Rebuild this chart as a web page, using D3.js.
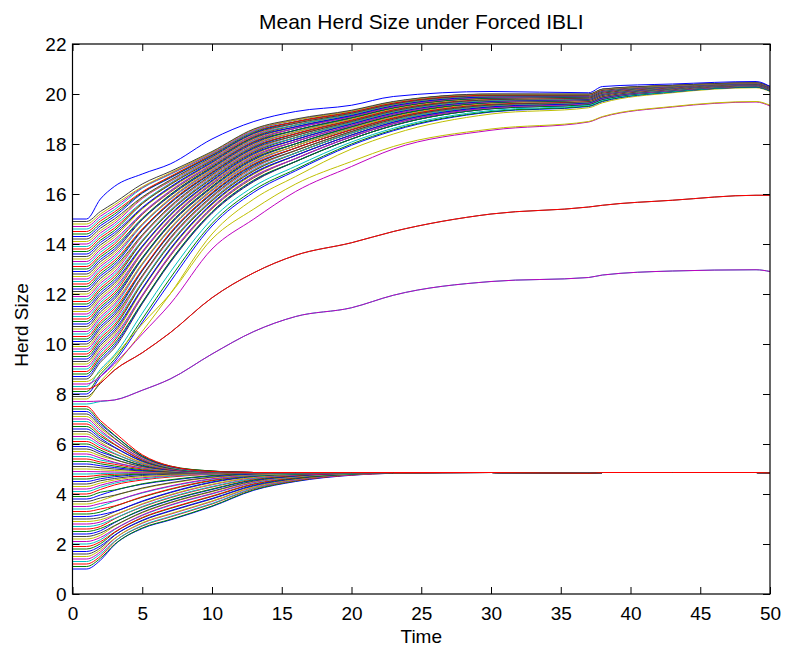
<!DOCTYPE html>
<html>
<head>
<meta charset="utf-8">
<script src="https://cdn.jsdelivr.net/npm/d3@7"></script>
<style>
  body { margin: 0; background: #fff; }
  svg { display: block; }
  text { font-family: "Liberation Sans", Arial, Helvetica, sans-serif; fill: #000; }
</style>
</head>
<body>
<div id="container"></div>
<script>
/* CONSTANTS AND GLOBALS */
const width = 786,
  height = 654,
  margin = { top: 44, bottom: 60, left: 72.5, right: 16 };

// time steps the values were read at
const times = [0, 1, 2, 3, 5, 7, 10, 13, 16, 20, 23, 30, 37, 38, 43, 49, 50];

// MATLAB default line colours, cycled in plotting order
const colorOrder = ["#0000ff", "#008000", "#ff0000", "#00bfbf", "#bf00bf", "#bfbf00", "#404040"];

const xTicks = [0, 5, 10, 15, 20, 25, 30, 35, 40, 45, 50];
const yTicks = [0, 2, 4, 6, 8, 10, 12, 14, 16, 18, 20, 22];

// herds starting below the low equilibrium (1.0 .. 4.8)
const lowStart = [
  [1.0, 1.0, 1.35, 1.96, 2.62, 2.96, 3.50, 4.15, 4.50, 4.75, 4.83, 4.86, 4.83, 4.86, 4.86, 4.86, 4.84],
  [1.1, 1.1, 1.43, 1.98, 2.64, 2.98, 3.52, 4.17, 4.52, 4.77, 4.83, 4.86, 4.83, 4.86, 4.86, 4.86, 4.84],
  [1.2, 1.2, 1.51, 2.08, 2.72, 3.08, 3.60, 4.21, 4.54, 4.76, 4.83, 4.86, 4.83, 4.86, 4.86, 4.86, 4.84],
  [1.3, 1.3, 1.60, 2.10, 2.74, 3.10, 3.62, 4.23, 4.56, 4.78, 4.84, 4.86, 4.83, 4.86, 4.86, 4.86, 4.84],
  [1.4, 1.4, 1.68, 2.20, 2.83, 3.19, 3.70, 4.27, 4.57, 4.77, 4.84, 4.86, 4.83, 4.86, 4.86, 4.86, 4.84],
  [1.5, 1.5, 1.76, 2.22, 2.85, 3.21, 3.72, 4.29, 4.59, 4.79, 4.84, 4.86, 4.83, 4.86, 4.86, 4.86, 4.84],
  [1.6, 1.6, 1.84, 2.33, 2.93, 3.31, 3.80, 4.33, 4.61, 4.79, 4.85, 4.86, 4.83, 4.86, 4.86, 4.86, 4.84],
  [1.7, 1.7, 1.92, 2.35, 2.95, 3.33, 3.82, 4.35, 4.63, 4.81, 4.85, 4.86, 4.83, 4.86, 4.86, 4.86, 4.84],
  [1.8, 1.8, 2.01, 2.45, 3.04, 3.42, 3.90, 4.39, 4.64, 4.80, 4.85, 4.86, 4.83, 4.86, 4.86, 4.86, 4.84],
  [1.9, 1.9, 2.09, 2.47, 3.06, 3.44, 3.92, 4.41, 4.66, 4.82, 4.85, 4.86, 4.83, 4.86, 4.86, 4.86, 4.84],
  [2.0, 2.0, 2.17, 2.57, 3.14, 3.54, 4.00, 4.45, 4.68, 4.81, 4.86, 4.86, 4.83, 4.86, 4.86, 4.86, 4.84],
  [2.1, 2.1, 2.26, 2.59, 3.16, 3.56, 4.02, 4.47, 4.70, 4.83, 4.86, 4.86, 4.83, 4.86, 4.86, 4.86, 4.84],
  [2.2, 2.2, 2.35, 2.71, 3.25, 3.64, 4.09, 4.50, 4.70, 4.82, 4.86, 4.86, 4.83, 4.86, 4.86, 4.86, 4.84],
  [2.3, 2.3, 2.44, 2.73, 3.27, 3.66, 4.11, 4.52, 4.72, 4.84, 4.86, 4.86, 4.83, 4.86, 4.86, 4.86, 4.84],
  [2.4, 2.4, 2.53, 2.85, 3.36, 3.74, 4.18, 4.55, 4.72, 4.83, 4.86, 4.86, 4.83, 4.86, 4.86, 4.86, 4.84],
  [2.5, 2.5, 2.62, 2.87, 3.38, 3.76, 4.20, 4.57, 4.74, 4.85, 4.86, 4.86, 4.83, 4.86, 4.86, 4.86, 4.84],
  [2.6, 2.6, 2.70, 3.00, 3.48, 3.85, 4.28, 4.60, 4.75, 4.83, 4.86, 4.86, 4.83, 4.86, 4.86, 4.86, 4.84],
  [2.7, 2.7, 2.79, 3.02, 3.50, 3.87, 4.30, 4.62, 4.77, 4.85, 4.86, 4.86, 4.83, 4.86, 4.86, 4.86, 4.84],
  [2.8, 2.8, 2.88, 3.14, 3.59, 3.95, 4.37, 4.65, 4.77, 4.84, 4.86, 4.86, 4.83, 4.86, 4.86, 4.86, 4.84],
  [2.9, 2.9, 2.97, 3.16, 3.61, 3.97, 4.39, 4.67, 4.79, 4.86, 4.86, 4.86, 4.83, 4.86, 4.86, 4.86, 4.84],
  [3.0, 3.0, 3.06, 3.28, 3.70, 4.05, 4.46, 4.70, 4.79, 4.85, 4.86, 4.86, 4.83, 4.86, 4.86, 4.86, 4.84],
  [3.1, 3.1, 3.17, 3.30, 3.72, 4.07, 4.48, 4.72, 4.81, 4.85, 4.86, 4.86, 4.83, 4.86, 4.86, 4.86, 4.84],
  [3.2, 3.2, 3.28, 3.50, 3.87, 4.18, 4.53, 4.73, 4.80, 4.85, 4.86, 4.86, 4.83, 4.86, 4.86, 4.86, 4.84],
  [3.3, 3.3, 3.40, 3.52, 3.89, 4.20, 4.55, 4.75, 4.82, 4.85, 4.86, 4.86, 4.83, 4.86, 4.86, 4.86, 4.84],
  [3.4, 3.4, 3.51, 3.71, 4.04, 4.30, 4.59, 4.75, 4.81, 4.85, 4.86, 4.86, 4.83, 4.86, 4.86, 4.86, 4.84],
  [3.5, 3.5, 3.62, 3.73, 4.06, 4.32, 4.61, 4.77, 4.83, 4.85, 4.86, 4.86, 4.83, 4.86, 4.86, 4.86, 4.84],
  [3.6, 3.6, 3.73, 3.93, 4.22, 4.43, 4.66, 4.78, 4.82, 4.85, 4.86, 4.86, 4.83, 4.86, 4.86, 4.86, 4.84],
  [3.7, 3.7, 3.84, 3.95, 4.24, 4.45, 4.68, 4.80, 4.84, 4.85, 4.86, 4.86, 4.83, 4.86, 4.86, 4.86, 4.84],
  [3.8, 3.8, 3.96, 4.14, 4.39, 4.55, 4.72, 4.81, 4.83, 4.85, 4.86, 4.86, 4.83, 4.86, 4.86, 4.86, 4.84],
  [3.9, 3.9, 4.07, 4.16, 4.41, 4.57, 4.74, 4.83, 4.85, 4.85, 4.86, 4.86, 4.83, 4.86, 4.86, 4.86, 4.84],
  [4.0, 4.0, 4.18, 4.36, 4.56, 4.68, 4.79, 4.83, 4.84, 4.85, 4.86, 4.86, 4.83, 4.86, 4.86, 4.86, 4.84],
  [4.1, 4.1, 4.27, 4.43, 4.60, 4.71, 4.80, 4.84, 4.84, 4.85, 4.86, 4.86, 4.83, 4.86, 4.86, 4.86, 4.84],
  [4.2, 4.2, 4.35, 4.49, 4.65, 4.74, 4.81, 4.84, 4.85, 4.85, 4.86, 4.86, 4.83, 4.86, 4.86, 4.86, 4.84],
  [4.3, 4.3, 4.44, 4.56, 4.69, 4.76, 4.83, 4.85, 4.85, 4.85, 4.86, 4.86, 4.83, 4.86, 4.86, 4.86, 4.84],
  [4.4, 4.4, 4.53, 4.62, 4.74, 4.79, 4.84, 4.85, 4.85, 4.85, 4.86, 4.86, 4.83, 4.86, 4.86, 4.86, 4.84],
  [4.5, 4.5, 4.61, 4.69, 4.78, 4.82, 4.85, 4.85, 4.85, 4.85, 4.86, 4.86, 4.83, 4.86, 4.86, 4.86, 4.84],
  [4.6, 4.6, 4.69, 4.74, 4.80, 4.83, 4.85, 4.85, 4.85, 4.85, 4.86, 4.86, 4.83, 4.86, 4.86, 4.86, 4.84],
  [4.7, 4.7, 4.76, 4.79, 4.83, 4.84, 4.85, 4.85, 4.85, 4.85, 4.86, 4.86, 4.83, 4.86, 4.86, 4.86, 4.84],
  [4.8, 4.8, 4.82, 4.83, 4.84, 4.85, 4.85, 4.85, 4.85, 4.85, 4.86, 4.86, 4.83, 4.86, 4.86, 4.86, 4.84]
];

// herds starting just above the low equilibrium (4.9 .. 7.5)
const midStart = [
  [4.9, 4.9, 4.89, 4.88, 4.86, 4.86, 4.85, 4.86, 4.86, 4.86, 4.86, 4.86, 4.83, 4.86, 4.86, 4.86, 4.84],
  [5.0, 5.0, 4.97, 4.94, 4.89, 4.87, 4.85, 4.86, 4.86, 4.86, 4.86, 4.86, 4.83, 4.86, 4.86, 4.86, 4.84],
  [5.1, 5.1, 5.05, 5.00, 4.92, 4.88, 4.86, 4.86, 4.86, 4.86, 4.86, 4.86, 4.83, 4.86, 4.86, 4.86, 4.84],
  [5.2, 5.2, 5.13, 5.06, 4.94, 4.89, 4.86, 4.86, 4.86, 4.86, 4.86, 4.86, 4.83, 4.86, 4.86, 4.86, 4.84],
  [5.3, 5.3, 5.21, 5.12, 4.97, 4.90, 4.86, 4.86, 4.86, 4.86, 4.86, 4.86, 4.83, 4.86, 4.86, 4.86, 4.84],
  [5.4, 5.4, 5.28, 5.19, 5.00, 4.91, 4.86, 4.86, 4.86, 4.86, 4.86, 4.86, 4.83, 4.86, 4.86, 4.86, 4.84],
  [5.5, 5.5, 5.36, 5.25, 5.03, 4.92, 4.86, 4.86, 4.86, 4.86, 4.86, 4.86, 4.83, 4.86, 4.86, 4.86, 4.84],
  [5.6, 5.6, 5.44, 5.27, 5.05, 4.94, 4.88, 4.86, 4.86, 4.86, 4.86, 4.86, 4.83, 4.86, 4.86, 4.86, 4.84],
  [5.7, 5.7, 5.52, 5.37, 5.08, 4.94, 4.87, 4.86, 4.86, 4.86, 4.86, 4.86, 4.83, 4.86, 4.86, 4.86, 4.84],
  [5.8, 5.8, 5.60, 5.39, 5.10, 4.96, 4.89, 4.86, 4.86, 4.86, 4.86, 4.86, 4.83, 4.86, 4.86, 4.86, 4.84],
  [5.9, 5.9, 5.68, 5.49, 5.13, 4.96, 4.87, 4.86, 4.86, 4.86, 4.86, 4.86, 4.83, 4.86, 4.86, 4.86, 4.84],
  [6.0, 6.0, 5.76, 5.51, 5.15, 4.98, 4.89, 4.86, 4.86, 4.86, 4.86, 4.86, 4.83, 4.86, 4.86, 4.86, 4.84],
  [6.1, 6.1, 5.84, 5.61, 5.19, 4.98, 4.88, 4.86, 4.86, 4.86, 4.86, 4.86, 4.83, 4.86, 4.86, 4.86, 4.84],
  [6.2, 6.2, 5.92, 5.63, 5.21, 5.00, 4.90, 4.86, 4.86, 4.86, 4.86, 4.86, 4.83, 4.86, 4.86, 4.86, 4.84],
  [6.3, 6.3, 6.00, 5.73, 5.24, 5.00, 4.88, 4.86, 4.86, 4.86, 4.86, 4.86, 4.83, 4.86, 4.86, 4.86, 4.84],
  [6.4, 6.4, 6.07, 5.75, 5.26, 5.02, 4.90, 4.86, 4.86, 4.86, 4.86, 4.86, 4.83, 4.86, 4.86, 4.86, 4.84],
  [6.5, 6.5, 6.15, 5.86, 5.30, 5.02, 4.88, 4.86, 4.86, 4.86, 4.86, 4.86, 4.83, 4.86, 4.86, 4.86, 4.84],
  [6.6, 6.6, 6.23, 5.88, 5.32, 5.04, 4.90, 4.86, 4.86, 4.86, 4.86, 4.86, 4.83, 4.86, 4.86, 4.86, 4.84],
  [6.7, 6.7, 6.31, 5.98, 5.35, 5.04, 4.89, 4.86, 4.86, 4.86, 4.86, 4.86, 4.83, 4.86, 4.86, 4.86, 4.84],
  [6.8, 6.8, 6.39, 6.00, 5.37, 5.06, 4.91, 4.86, 4.86, 4.86, 4.86, 4.86, 4.83, 4.86, 4.86, 4.86, 4.84],
  [6.9, 6.9, 6.47, 6.10, 5.40, 5.06, 4.89, 4.86, 4.86, 4.86, 4.86, 4.86, 4.83, 4.86, 4.86, 4.86, 4.84],
  [7.0, 7.0, 6.55, 6.12, 5.42, 5.08, 4.91, 4.86, 4.86, 4.86, 4.86, 4.86, 4.83, 4.86, 4.86, 4.86, 4.84],
  [7.1, 7.1, 6.63, 6.22, 5.46, 5.08, 4.90, 4.86, 4.86, 4.86, 4.86, 4.86, 4.83, 4.86, 4.86, 4.86, 4.84],
  [7.2, 7.2, 6.71, 6.24, 5.48, 5.10, 4.92, 4.86, 4.86, 4.86, 4.86, 4.86, 4.83, 4.86, 4.86, 4.86, 4.84],
  [7.3, 7.3, 6.79, 6.34, 5.51, 5.10, 4.90, 4.86, 4.86, 4.86, 4.86, 4.86, 4.83, 4.86, 4.86, 4.86, 4.84],
  [7.4, 7.4, 6.86, 6.36, 5.53, 5.12, 4.92, 4.86, 4.86, 4.86, 4.86, 4.86, 4.83, 4.86, 4.86, 4.86, 4.84],
  [7.5, 7.5, 6.94, 6.47, 5.57, 5.12, 4.90, 4.86, 4.86, 4.86, 4.86, 4.86, 4.83, 4.86, 4.86, 4.86, 4.84]
];

// herds that escape to the high equilibrium (7.6 .. 15.0)
const highStart = [
  [7.6, 7.6, 7.70, 7.76, 8.15, 8.60, 9.60, 10.50, 11.10, 11.45, 11.95, 12.50, 12.66, 12.76, 12.92, 12.97, 12.90],
  [7.7, 7.7, 7.72, 7.76, 8.15, 8.60, 9.60, 10.50, 11.10, 11.45, 11.95, 12.50, 12.66, 12.76, 12.92, 12.97, 12.90],
  [7.8, 7.8, 8.50, 9.10, 10.50, 12.00, 14.40, 15.80, 16.70, 17.80, 18.40, 19.20, 19.45, 19.65, 20.05, 20.25, 20.10],
  [7.9, 7.9, 8.42, 8.95, 9.65, 10.45, 11.85, 12.85, 13.55, 14.05, 14.50, 15.20, 15.48, 15.55, 15.75, 15.95, 15.95],
  [8.0, 8.0, 8.69, 9.28, 10.87, 12.48, 14.72, 16.07, 16.93, 17.95, 18.53, 19.28, 19.50, 19.70, 20.08, 20.27, 20.12],
  [8.1, 8.1, 8.79, 9.38, 11.00, 12.63, 14.82, 16.16, 16.99, 18.00, 18.57, 19.30, 19.52, 19.72, 20.09, 20.28, 20.13],
  [8.2, 8.2, 8.45, 8.95, 9.65, 10.45, 11.85, 12.85, 13.55, 14.05, 14.50, 15.20, 15.48, 15.55, 15.75, 15.95, 15.95],
  [8.3, 8.3, 8.98, 9.56, 11.23, 12.87, 14.99, 16.30, 17.11, 18.08, 18.63, 19.34, 19.55, 19.75, 20.10, 20.29, 20.14],
  [8.4, 8.4, 8.70, 9.20, 10.40, 11.60, 13.80, 15.00, 16.10, 17.10, 17.80, 18.55, 18.88, 19.08, 19.48, 19.68, 19.52],
  [8.5, 8.5, 8.90, 9.50, 10.80, 12.00, 14.20, 15.40, 16.40, 17.30, 17.90, 18.60, 18.90, 19.10, 19.50, 19.70, 19.55],
  [8.6, 8.6, 9.27, 9.84, 11.61, 13.25, 15.23, 16.50, 17.30, 18.20, 18.74, 19.41, 19.59, 19.79, 20.13, 20.30, 20.15],
  [8.7, 8.7, 9.36, 9.93, 11.64, 13.28, 15.26, 16.53, 17.30, 18.20, 18.74, 19.41, 19.59, 19.79, 20.13, 20.30, 20.15],
  [8.8, 8.8, 9.46, 10.02, 11.67, 13.31, 15.29, 16.56, 17.30, 18.20, 18.74, 19.41, 19.59, 19.79, 20.13, 20.30, 20.15],
  [8.9, 8.9, 9.55, 10.12, 11.90, 13.51, 15.41, 16.65, 17.42, 18.29, 18.81, 19.45, 19.62, 19.82, 20.14, 20.31, 20.16],
  [9.0, 9.0, 9.65, 10.21, 11.93, 13.54, 15.44, 16.68, 17.42, 18.29, 18.81, 19.45, 19.62, 19.82, 20.14, 20.31, 20.16],
  [9.1, 9.1, 9.74, 10.30, 11.96, 13.57, 15.47, 16.71, 17.42, 18.29, 18.81, 19.45, 19.62, 19.82, 20.14, 20.31, 20.16],
  [9.2, 9.2, 9.84, 10.39, 12.17, 13.75, 15.57, 16.79, 17.54, 18.36, 18.87, 19.49, 19.65, 19.85, 20.16, 20.32, 20.17],
  [9.3, 9.3, 9.94, 10.48, 12.20, 13.78, 15.60, 16.82, 17.54, 18.36, 18.87, 19.49, 19.65, 19.85, 20.16, 20.32, 20.17],
  [9.4, 9.4, 10.03, 10.57, 12.23, 13.81, 15.63, 16.85, 17.54, 18.36, 18.87, 19.49, 19.65, 19.85, 20.16, 20.32, 20.17],
  [9.5, 9.5, 10.13, 10.67, 12.43, 13.98, 15.72, 16.92, 17.64, 18.44, 18.93, 19.53, 19.68, 19.88, 20.17, 20.33, 20.18],
  [9.6, 9.6, 10.23, 10.76, 12.46, 14.01, 15.75, 16.95, 17.64, 18.44, 18.93, 19.53, 19.68, 19.88, 20.17, 20.33, 20.18],
  [9.7, 9.7, 10.32, 10.86, 12.49, 14.04, 15.78, 16.98, 17.64, 18.44, 18.93, 19.53, 19.68, 19.88, 20.17, 20.33, 20.18],
  [9.8, 9.8, 10.42, 10.95, 12.68, 14.19, 15.86, 17.04, 17.74, 18.50, 18.99, 19.56, 19.70, 19.90, 20.19, 20.34, 20.19],
  [9.9, 9.9, 10.51, 11.04, 12.71, 14.22, 15.89, 17.07, 17.74, 18.50, 18.99, 19.56, 19.70, 19.90, 20.19, 20.34, 20.19],
  [10.0, 10.0, 10.61, 11.13, 12.74, 14.25, 15.92, 17.10, 17.74, 18.50, 18.99, 19.56, 19.70, 19.90, 20.19, 20.34, 20.19],
  [10.1, 10.1, 10.70, 11.22, 12.92, 14.39, 16.00, 17.15, 17.84, 18.57, 19.04, 19.60, 19.72, 19.92, 20.20, 20.35, 20.20],
  [10.2, 10.2, 10.80, 11.31, 12.95, 14.42, 16.03, 17.18, 17.84, 18.57, 19.04, 19.60, 19.72, 19.92, 20.20, 20.35, 20.20],
  [10.3, 10.3, 10.89, 11.41, 12.98, 14.45, 16.06, 17.21, 17.84, 18.57, 19.04, 19.60, 19.72, 19.92, 20.20, 20.35, 20.20],
  [10.4, 10.4, 10.99, 11.50, 13.17, 14.58, 16.13, 17.26, 17.93, 18.63, 19.09, 19.63, 19.74, 19.94, 20.21, 20.36, 20.21],
  [10.5, 10.5, 11.08, 11.59, 13.20, 14.61, 16.16, 17.29, 17.93, 18.63, 19.09, 19.63, 19.74, 19.94, 20.21, 20.36, 20.21],
  [10.6, 10.6, 11.18, 11.68, 13.23, 14.64, 16.19, 17.32, 17.93, 18.63, 19.09, 19.63, 19.74, 19.94, 20.21, 20.36, 20.21],
  [10.7, 10.7, 11.28, 11.78, 13.40, 14.77, 16.25, 17.37, 18.01, 18.69, 19.14, 19.66, 19.76, 19.96, 20.22, 20.36, 20.21],
  [10.8, 10.8, 11.38, 11.87, 13.43, 14.80, 16.28, 17.40, 18.01, 18.69, 19.14, 19.66, 19.76, 19.96, 20.22, 20.36, 20.21],
  [10.9, 10.9, 11.47, 11.96, 13.46, 14.83, 16.31, 17.43, 18.01, 18.69, 19.14, 19.66, 19.76, 19.96, 20.22, 20.36, 20.21],
  [11.0, 11.0, 11.57, 12.05, 13.64, 14.95, 16.38, 17.47, 18.10, 18.74, 19.19, 19.69, 19.78, 19.98, 20.23, 20.37, 20.22],
  [11.1, 11.1, 11.66, 12.15, 13.67, 14.98, 16.41, 17.50, 18.10, 18.74, 19.19, 19.69, 19.78, 19.98, 20.23, 20.37, 20.22],
  [11.2, 11.2, 11.76, 12.24, 13.70, 15.01, 16.44, 17.53, 18.10, 18.74, 19.19, 19.69, 19.78, 19.98, 20.23, 20.37, 20.22],
  [11.3, 11.3, 11.85, 12.33, 13.86, 15.12, 16.49, 17.57, 18.18, 18.80, 19.24, 19.71, 19.80, 20.00, 20.24, 20.38, 20.23],
  [11.4, 11.4, 11.95, 12.42, 13.89, 15.15, 16.52, 17.60, 18.18, 18.80, 19.24, 19.71, 19.80, 20.00, 20.24, 20.38, 20.23],
  [11.5, 11.5, 12.04, 12.51, 13.92, 15.18, 16.55, 17.63, 18.18, 18.80, 19.24, 19.71, 19.80, 20.00, 20.24, 20.38, 20.23],
  [11.6, 11.6, 12.14, 12.60, 14.09, 15.29, 16.61, 17.67, 18.26, 18.85, 19.28, 19.74, 19.82, 20.02, 20.25, 20.39, 20.24],
  [11.7, 11.7, 12.23, 12.70, 14.12, 15.32, 16.64, 17.70, 18.26, 18.85, 19.28, 19.74, 19.82, 20.02, 20.25, 20.39, 20.24],
  [11.8, 11.8, 12.33, 12.79, 14.15, 15.35, 16.67, 17.73, 18.26, 18.85, 19.28, 19.74, 19.82, 20.02, 20.25, 20.39, 20.24],
  [11.9, 11.9, 12.43, 12.88, 14.31, 15.45, 16.72, 17.76, 18.34, 18.90, 19.32, 19.77, 19.84, 20.04, 20.26, 20.39, 20.24],
  [12.0, 12.0, 12.52, 12.98, 14.34, 15.48, 16.75, 17.79, 18.34, 18.90, 19.32, 19.77, 19.84, 20.04, 20.26, 20.39, 20.24],
  [12.1, 12.1, 12.62, 13.07, 14.37, 15.51, 16.78, 17.82, 18.34, 18.90, 19.32, 19.77, 19.84, 20.04, 20.26, 20.39, 20.24],
  [12.2, 12.2, 12.72, 13.16, 14.54, 15.62, 16.83, 17.85, 18.41, 18.95, 19.37, 19.80, 19.86, 20.06, 20.27, 20.40, 20.25],
  [12.3, 12.3, 12.81, 13.25, 14.57, 15.65, 16.86, 17.88, 18.41, 18.95, 19.37, 19.80, 19.86, 20.06, 20.27, 20.40, 20.25],
  [12.4, 12.4, 12.91, 13.34, 14.60, 15.68, 16.89, 17.91, 18.41, 18.95, 19.37, 19.80, 19.86, 20.06, 20.27, 20.40, 20.25],
  [12.5, 12.5, 13.00, 13.44, 14.75, 15.77, 16.93, 17.94, 18.48, 19.00, 19.41, 19.82, 19.88, 20.08, 20.28, 20.41, 20.26],
  [12.6, 12.6, 13.10, 13.53, 14.78, 15.80, 16.96, 17.97, 18.48, 19.00, 19.41, 19.82, 19.88, 20.08, 20.28, 20.41, 20.26],
  [12.7, 12.7, 13.19, 13.62, 14.81, 15.83, 16.99, 18.00, 18.48, 19.00, 19.41, 19.82, 19.88, 20.08, 20.28, 20.41, 20.26],
  [12.8, 12.8, 13.29, 13.71, 14.97, 15.92, 17.03, 18.03, 18.55, 19.05, 19.45, 19.84, 19.89, 20.09, 20.29, 20.41, 20.26],
  [12.9, 12.9, 13.38, 13.80, 15.00, 15.95, 17.06, 18.06, 18.55, 19.05, 19.45, 19.84, 19.89, 20.09, 20.29, 20.41, 20.26],
  [13.0, 13.0, 13.48, 13.89, 15.03, 15.98, 17.09, 18.09, 18.55, 19.05, 19.45, 19.84, 19.89, 20.09, 20.29, 20.41, 20.26],
  [13.1, 13.1, 13.57, 13.99, 15.18, 16.07, 17.13, 18.11, 18.63, 19.10, 19.49, 19.87, 19.91, 20.11, 20.30, 20.42, 20.27],
  [13.2, 13.2, 13.67, 14.08, 15.21, 16.10, 17.16, 18.14, 18.63, 19.10, 19.49, 19.87, 19.91, 20.11, 20.30, 20.42, 20.27],
  [13.3, 13.3, 13.77, 14.17, 15.24, 16.13, 17.19, 18.17, 18.63, 19.10, 19.49, 19.87, 19.91, 20.11, 20.30, 20.42, 20.27],
  [13.4, 13.4, 13.86, 14.27, 15.40, 16.22, 17.23, 18.20, 18.69, 19.14, 19.53, 19.89, 19.93, 20.13, 20.31, 20.42, 20.27],
  [13.5, 13.5, 13.96, 14.36, 15.43, 16.25, 17.26, 18.23, 18.69, 19.14, 19.53, 19.89, 19.93, 20.13, 20.31, 20.42, 20.27],
  [13.6, 13.6, 14.06, 14.45, 15.46, 16.28, 17.29, 18.26, 18.69, 19.14, 19.53, 19.89, 19.93, 20.13, 20.31, 20.42, 20.27],
  [13.7, 13.7, 14.15, 14.54, 15.61, 16.37, 17.33, 18.28, 18.76, 19.19, 19.57, 19.92, 19.94, 20.14, 20.32, 20.43, 20.28],
  [13.8, 13.8, 14.25, 14.63, 15.64, 16.40, 17.36, 18.31, 18.76, 19.19, 19.57, 19.92, 19.94, 20.14, 20.32, 20.43, 20.28],
  [13.9, 13.9, 14.34, 14.73, 15.67, 16.43, 17.39, 18.34, 18.76, 19.19, 19.57, 19.92, 19.94, 20.14, 20.32, 20.43, 20.28],
  [14.0, 14.0, 14.44, 14.82, 15.82, 16.50, 17.42, 18.36, 18.83, 19.23, 19.60, 19.94, 19.96, 20.16, 20.33, 20.44, 20.29],
  [14.1, 14.1, 14.53, 14.91, 15.85, 16.53, 17.45, 18.39, 18.83, 19.23, 19.60, 19.94, 19.96, 20.16, 20.33, 20.44, 20.29],
  [14.2, 14.2, 14.63, 15.00, 15.88, 16.56, 17.48, 18.42, 18.83, 19.23, 19.60, 19.94, 19.96, 20.16, 20.33, 20.44, 20.29],
  [14.3, 14.3, 14.73, 15.10, 16.03, 16.64, 17.52, 18.44, 18.89, 19.28, 19.64, 19.96, 19.97, 20.17, 20.34, 20.44, 20.29],
  [14.4, 14.4, 14.82, 15.19, 16.06, 16.67, 17.55, 18.47, 18.89, 19.28, 19.64, 19.96, 19.97, 20.17, 20.34, 20.44, 20.29],
  [14.5, 14.5, 14.92, 15.28, 16.09, 16.70, 17.58, 18.50, 18.89, 19.28, 19.64, 19.96, 19.97, 20.17, 20.34, 20.44, 20.29],
  [14.6, 14.6, 15.01, 15.37, 16.23, 16.78, 17.61, 18.52, 18.96, 19.32, 19.68, 19.99, 19.99, 20.19, 20.34, 20.45, 20.30],
  [14.7, 14.7, 15.11, 15.47, 16.26, 16.81, 17.64, 18.55, 18.96, 19.32, 19.68, 19.99, 19.99, 20.19, 20.34, 20.45, 20.30],
  [14.8, 14.8, 15.20, 15.56, 16.29, 16.84, 17.67, 18.58, 18.96, 19.32, 19.68, 19.99, 19.99, 20.19, 20.34, 20.45, 20.30],
  [14.9, 14.9, 15.30, 15.65, 16.40, 16.90, 17.70, 18.60, 19.00, 19.35, 19.70, 20.00, 20.00, 20.20, 20.35, 20.45, 20.30],
  [15.0, 15.0, 15.80, 16.30, 16.80, 17.20, 18.20, 18.90, 19.30, 19.55, 19.90, 20.10, 20.05, 20.30, 20.40, 20.50, 20.30]
];

// plotted in order of starting herd size
const herdSeries = [...lowStart, ...midStart, ...highStart];

/* SCALES */
const x = d3.scaleLinear()
  .domain([0, 50])
  .range([margin.left, width - margin.right]);

const y = d3.scaleLinear()
  .domain([0, 22])
  .range([height - margin.bottom, margin.top]);

/* APPEND SVG */
const svg = d3.select("#container")
  .append("svg")
  .attr("width", width)
  .attr("height", height);

svg.append("rect")
  .attr("width", width)
  .attr("height", height)
  .attr("fill", "#fff");

svg.append("clipPath")
  .attr("id", "plot-clip")
  .append("rect")
  .attr("x", x(0))
  .attr("y", y(22))
  .attr("width", x(50) - x(0))
  .attr("height", y(0) - y(22));

/* LINES */
const lineGen = d3.line()
  .x((d, i) => x(times[i]))
  .y(d => y(d))
  .curve(d3.curveMonotoneX);

svg.append("g")
  .attr("clip-path", "url(#plot-clip)")
  .selectAll("path.herd")
  .data(herdSeries)
  .join("path")
  .attr("class", "herd")
  .attr("d", lineGen)
  .attr("fill", "none")
  .attr("stroke", (d, i) => colorOrder[i % colorOrder.length])
  .attr("stroke-width", 1);

/* AXES - matlab style box with inward ticks */
const tickLen = 7;

svg.append("g")
  .attr("transform", `translate(0, ${y(0)})`)
  .call(d3.axisBottom(x).tickValues(xTicks).tickSizeInner(-tickLen).tickSizeOuter(0).tickPadding(12.5));

svg.append("g")
  .attr("transform", `translate(${x(0)}, 0)`)
  .call(d3.axisLeft(y).tickValues(yTicks).tickSizeInner(-tickLen).tickSizeOuter(0).tickPadding(6));

svg.append("g")
  .attr("transform", `translate(0, ${y(22)})`)
  .call(d3.axisTop(x).tickValues(xTicks).tickSizeInner(-tickLen).tickSizeOuter(0).tickFormat(""));

svg.append("g")
  .attr("transform", `translate(${x(50)}, 0)`)
  .call(d3.axisRight(y).tickValues(yTicks).tickSizeInner(-tickLen).tickSizeOuter(0).tickFormat(""));

svg.selectAll(".domain").remove();
svg.selectAll(".tick line").attr("stroke", "#000").attr("stroke-width", 1);
svg.selectAll(".tick text")
  .attr("font-family", "'Liberation Sans', Arial, sans-serif")
  .attr("font-size", 19)
  .attr("fill", "#000");

svg.append("rect")
  .attr("x", x(0))
  .attr("y", y(22))
  .attr("width", x(50) - x(0))
  .attr("height", y(0) - y(22))
  .attr("fill", "none")
  .attr("stroke", "#000")
  .attr("stroke-width", 1.2);

/* LABELS */
svg.append("text")
  .attr("x", (x(0) + x(50)) / 2)
  .attr("y", 29)
  .attr("text-anchor", "middle")
  .attr("font-size", 21)
  .text("Mean Herd Size under Forced IBLI");

svg.append("text")
  .attr("x", (x(0) + x(50)) / 2)
  .attr("y", 643)
  .attr("text-anchor", "middle")
  .attr("font-size", 19)
  .text("Time");

svg.append("text")
  .attr("transform", `translate(27.5, ${(y(0) + y(22)) / 2 + 6}) rotate(-90)`)
  .attr("text-anchor", "middle")
  .attr("font-size", 19)
  .text("Herd Size");
</script>
</body>
</html>
